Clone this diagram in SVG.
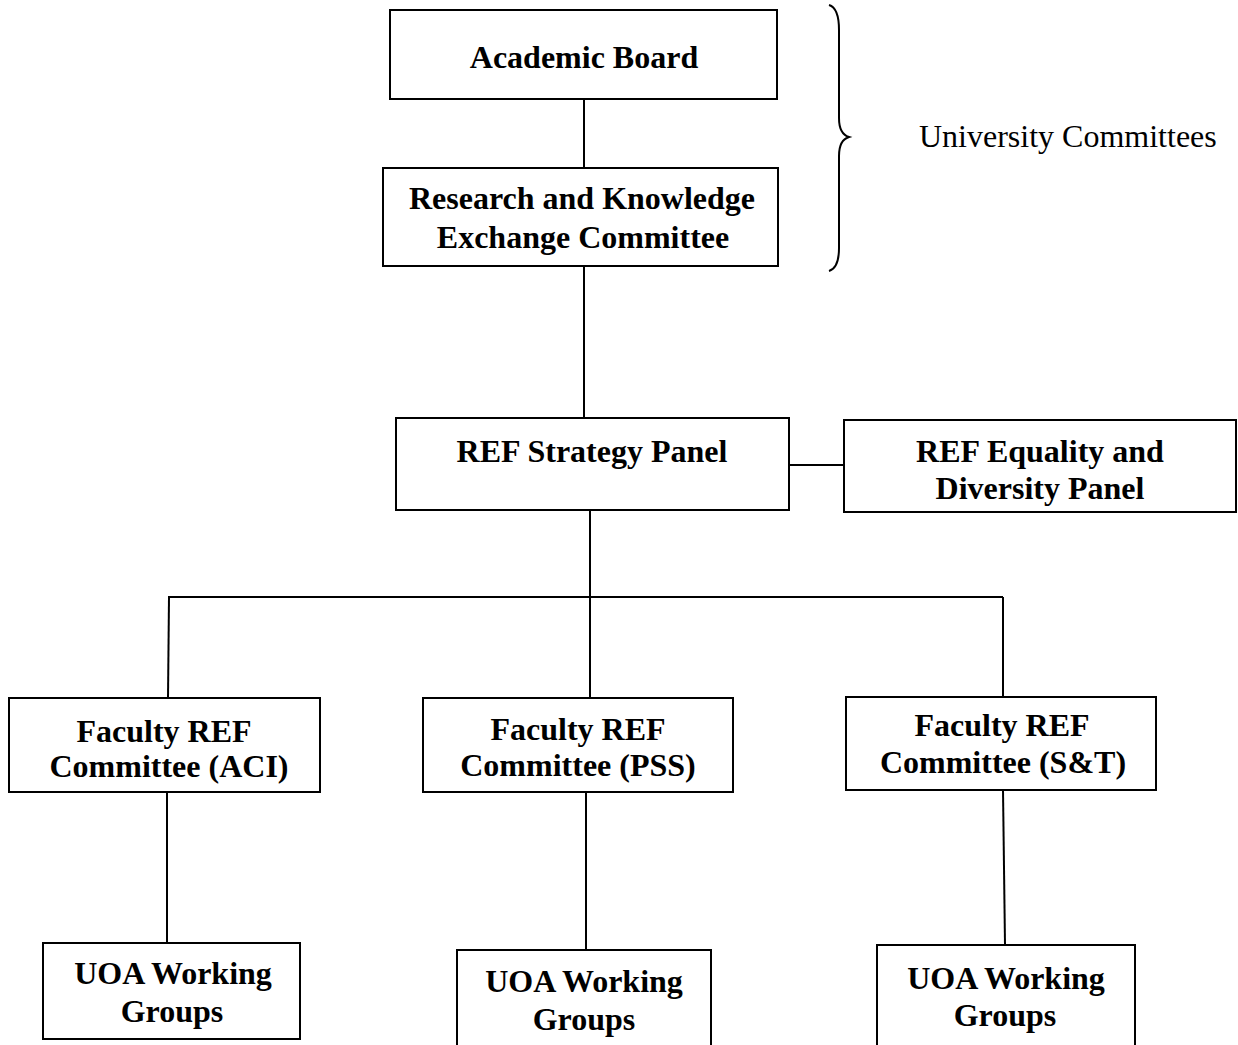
<svg xmlns="http://www.w3.org/2000/svg" width="1238" height="1045" viewBox="0 0 1238 1045">
<style>
.box{fill:#fff;stroke:#000;stroke-width:2}
.t{font-family:"Liberation Serif","Times New Roman",serif;font-weight:bold;font-size:32px;text-anchor:middle;fill:#000}
.n{font-family:"Liberation Serif","Times New Roman",serif;font-size:32px;fill:#000}
.c{stroke:#000;stroke-width:2;fill:none}
</style>
<rect width="1238" height="1045" fill="#fff"/>
<g id="connectors">
<line class="c" x1="584" y1="99" x2="584" y2="168"/>
<line class="c" x1="584" y1="266" x2="584" y2="418"/>
<line class="c" x1="789" y1="465" x2="844" y2="465"/>
<line class="c" x1="590" y1="510" x2="590" y2="597"/>
<line class="c" x1="168" y1="597" x2="1003" y2="597"/>
<line class="c" x1="169" y1="597" x2="168" y2="698"/>
<line class="c" x1="590" y1="597" x2="590" y2="698"/>
<line class="c" x1="1003" y1="597" x2="1003" y2="697"/>
<line class="c" x1="167" y1="792" x2="167" y2="943"/>
<line class="c" x1="586" y1="792" x2="586" y2="950"/>
<line class="c" x1="1003" y1="790" x2="1005" y2="945"/>
</g>
<g id="brace">
<path class="c" d="M829,5 Q839,8 839,30 L839,118 Q839,134 849,137 Q839,140 839,156 L839,248 Q839,268 829,271"/>
<text class="n" x="919" y="147">University Committees</text>
</g>
<g id="academic-board">
<rect class="box" x="390" y="10" width="387" height="89"/>
<text class="t" x="584" y="68">Academic Board</text>
</g>
<g id="rke-committee">
<rect class="box" x="383" y="168" width="395" height="98"/>
<text class="t" x="582" y="209">Research and Knowledge</text>
<text class="t" x="583" y="248">Exchange Committee</text>
</g>
<g id="ref-strategy-panel">
<rect class="box" x="396" y="418" width="393" height="92"/>
<text class="t" x="592" y="462">REF Strategy Panel</text>
</g>
<g id="ref-equality-panel">
<rect class="box" x="844" y="420" width="392" height="92"/>
<text class="t" x="1040" y="462">REF Equality and</text>
<text class="t" x="1040" y="499">Diversity Panel</text>
</g>
<g id="faculty-aci">
<rect class="box" x="9" y="698" width="311" height="94"/>
<text class="t" x="164" y="742">Faculty REF</text>
<text class="t" x="169" y="777">Committee (ACI)</text>
</g>
<g id="faculty-pss">
<rect class="box" x="423" y="698" width="310" height="94"/>
<text class="t" x="578" y="740">Faculty REF</text>
<text class="t" x="578" y="776">Committee (PSS)</text>
</g>
<g id="faculty-st">
<rect class="box" x="846" y="697" width="310" height="93"/>
<text class="t" x="1002" y="736">Faculty REF</text>
<text class="t" x="1003" y="773">Committee (S&amp;T)</text>
</g>
<g id="uoa-aci">
<rect class="box" x="43" y="943" width="257" height="96"/>
<text class="t" x="173" y="984">UOA Working</text>
<text class="t" x="172" y="1022">Groups</text>
</g>
<g id="uoa-pss">
<rect class="box" x="457" y="950" width="254" height="100"/>
<text class="t" x="584" y="992">UOA Working</text>
<text class="t" x="584" y="1030">Groups</text>
</g>
<g id="uoa-st">
<rect class="box" x="877" y="945" width="258" height="105"/>
<text class="t" x="1006" y="989">UOA Working</text>
<text class="t" x="1005" y="1026">Groups</text>
</g>
</svg>
